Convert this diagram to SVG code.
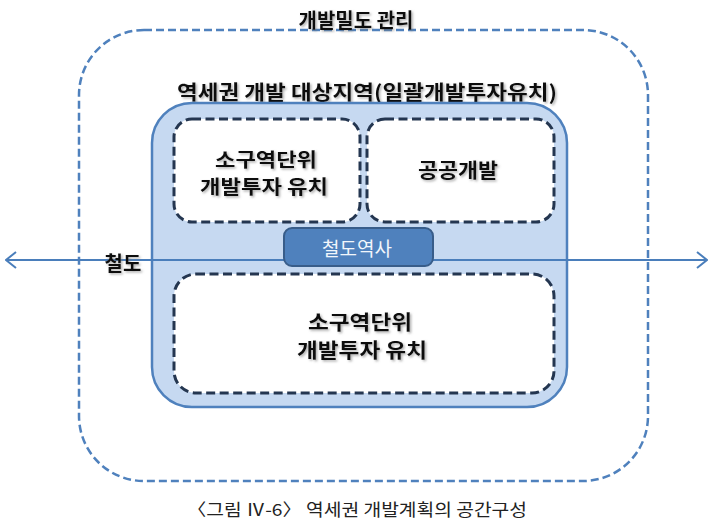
<svg xmlns="http://www.w3.org/2000/svg" width="720" height="527" viewBox="0 0 720 527">
  <style>
    .lbl { font-family: "Noto Sans CJK KR", "Noto Sans", sans-serif; font-weight: bold; fill: #111; text-anchor: middle; }
    .sh { filter: url(#tshadow); }
    .outer { fill: none; stroke: #4f81bd; stroke-width: 2.5; stroke-dasharray: 8 4; }
    .zone { fill: #c6d9f1; stroke: #4f81bd; stroke-width: 2.5; }
    .sub { fill: #ffffff; stroke: #243650; stroke-width: 3; stroke-dasharray: 9 4.5; }
    .station { fill: #4f81bd; stroke: #385d8a; stroke-width: 2; }
    .rail { stroke: #4a7ebb; stroke-width: 2; fill: none; }
  </style>
  <defs>
    <filter id="tshadow" x="-10%" y="-30%" width="120%" height="160%">
      <feDropShadow dx="1.5" dy="1.5" stdDeviation="1" flood-color="#777" flood-opacity="0.6"/>
    </filter>
    <marker id="arrow" viewBox="0 0 12 20" refX="11" refY="10" markerWidth="12" markerHeight="20" markerUnits="userSpaceOnUse" orient="auto-start-reverse">
      <path d="M1 2 L11 10 L1 18" fill="none" stroke="#4a7ebb" stroke-width="2"/>
    </marker>
  </defs>
  <rect width="720" height="527" fill="#ffffff"/>

  <g id="density-zone">
    <rect class="outer" x="79" y="30" width="569" height="451" rx="65" ry="65"/>
    <rect x="289" y="6" width="134" height="22" fill="#ffffff"/>
    <text class="lbl sh" x="356" y="28" font-size="20">개발밀도 관리</text>
  </g>

  <g id="station-area">
    <text class="lbl sh" x="367" y="100" font-size="20" textLength="380" lengthAdjust="spacingAndGlyphs">역세권 개발 대상지역(일괄개발투자유치)</text>
    <rect class="zone" x="152" y="103" width="415" height="304" rx="40" ry="40"/>
  </g>

  <g id="connectors">
    <line class="rail" x1="6" y1="260" x2="707" y2="260" marker-start="url(#arrow)" marker-end="url(#arrow)"/>
  </g>

  <g id="rail-label">
    <text class="lbl sh" x="123" y="271" font-size="20">철도</text>
  </g>

  <g id="sub-left">
    <rect class="sub" x="174" y="119" width="186" height="103" rx="18" ry="18"/>
    <text class="lbl sh" x="266" y="167" font-size="19" textLength="102" lengthAdjust="spacingAndGlyphs">소구역단위</text>
    <text class="lbl sh" x="264" y="194" font-size="19" textLength="128" lengthAdjust="spacingAndGlyphs">개발투자 유치</text>
  </g>

  <g id="sub-right">
    <rect class="sub" x="367" y="119" width="187" height="103" rx="18" ry="18"/>
    <text class="lbl sh" x="458" y="178" font-size="20" textLength="80" lengthAdjust="spacingAndGlyphs">공공개발</text>
  </g>

  <g id="station">
    <rect class="station" x="284" y="228" width="149" height="38" rx="8" ry="8"/>
    <text x="357" y="256" font-size="19" font-family="Noto Sans CJK KR, Noto Sans, sans-serif" fill="#f2f6fb" text-anchor="middle">철도역사</text>
  </g>

  <g id="sub-bottom">
    <rect class="sub" x="174" y="274" width="380" height="119" rx="22" ry="22"/>
    <text class="lbl sh" x="360" y="330" font-size="20" textLength="104" lengthAdjust="spacingAndGlyphs">소구역단위</text>
    <text class="lbl sh" x="362" y="358" font-size="20" textLength="130" lengthAdjust="spacingAndGlyphs">개발투자 유치</text>
  </g>

  <g id="caption">
    <text x="357" y="516" font-size="17" font-family="Noto Sans CJK KR, Noto Sans, sans-serif" fill="#222" text-anchor="middle" textLength="340" lengthAdjust="spacingAndGlyphs">〈그림 Ⅳ-6〉 역세권 개발계획의 공간구성</text>
  </g>
</svg>
